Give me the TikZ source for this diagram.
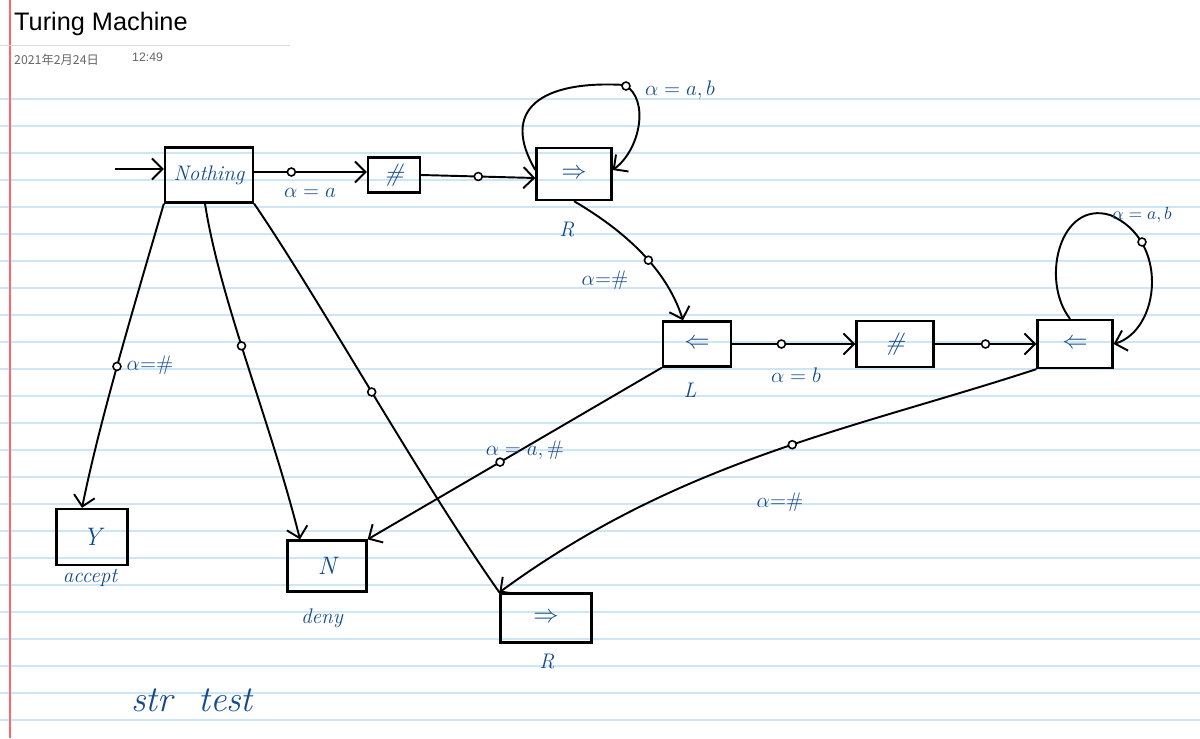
\documentclass[tikz,border=0pt]{standalone}
\usepackage{fontspec}
\setsansfont{Liberation Sans}
\newfontfamily\cjkf{Noto Sans CJK SC}
\usetikzlibrary{arrows.meta}
\definecolor{ink}{RGB}{20,75,140}
\definecolor{rule}{RGB}{205,230,245}
\tikzset{
 st/.style={draw,line width=1.3pt,inner sep=0pt,font=\Large\itshape,text=ink},
 ed/.style={line width=1.1pt,-{Straight Barb[length=6pt]}},
 lb/.style={text=ink,font=\large\itshape},
 dot/.style={circle,draw,line width=0.9pt,fill=white,inner sep=1.6pt},
}
\begin{document}
\begin{tikzpicture}[x=0.02cm,y=-0.02cm]
\useasboundingbox (0,0) rectangle (1200,738);
\fill[white] (0,0) rectangle (1200,738);
\foreach \y in {99,126,...,738} \draw[rule,line width=0.6pt] (0,\y) -- (1200,\y);
\draw[red!60,line width=0.8pt] (10,0) -- (10,738);
\draw[gray!30] (0,45) -- (290,45);
\node[anchor=west,font=\sffamily\Large] (title) at (8,24) {Turing Machine};
\node[anchor=west,font=\cjkf\scriptsize,text=gray!80!black] (date) at (8,60) {2021年2月24日};
\node[anchor=west,font=\sffamily\scriptsize,text=gray!80!black] (time) at (126,57) {12:49};
% states
\node[st,font=\large\itshape,minimum height=55*0.02cm,minimum width=88*0.02cm] (nothing) at (209,175) {Nothing};
\node[st,minimum width=52*0.02cm,minimum height=35*0.02cm] (h1) at (394,175) {\#};
\node[st,minimum width=75*0.02cm,minimum height=52*0.02cm] (r1) at (574,174) {$\Rightarrow$};
\node[st,minimum width=68*0.02cm,minimum height=45*0.02cm] (l1) at (697,344) {$\Leftarrow$};
\node[st,minimum width=77*0.02cm,minimum height=46*0.02cm] (h2) at (895,344) {\#};
\node[st,minimum width=75*0.02cm,minimum height=48*0.02cm] (l2) at (1075,344) {$\Leftarrow$};
\node[st,minimum width=71*0.02cm,minimum height=56*0.02cm] (y) at (92,537) {Y};
\node[st,minimum width=79*0.02cm,minimum height=51*0.02cm] (n) at (327,566) {N};
\node[st,minimum width=91*0.02cm,minimum height=49*0.02cm] (r2) at (546,618) {$\Rightarrow$};
\node[lb] (rl1) at (567,230) {R};
\node[lb] (ll1) at (690,390) {L};
\node[lb] (acc) at (90,578) {accept};
\node[lb] (den) at (322,618) {deny};
\node[lb] (rl2) at (547,662) {R};
\node[lb,font=\huge\itshape] (str) at (192,700) {str\ \ test};
% edges
\coordinate (s) at (115,169);
\draw[ed] (s) -- (nothing.west |- 0,169);
\draw[ed] (nothing.east |- 0,172) -- node[dot,pos=0.33]{} (h1.west |- 0,172);
\node[lb] at (310,193) {$\alpha = a$};
\draw[ed] (h1.east |- 0,175) -- node[dot,pos=0.5]{} (r1.west |- 0,178);
\draw[ed] (r1.west |- 0,170) .. controls (500,110) and (540,80) .. (625,85) .. controls (650,100) and (640,150) .. (r1.east |- 0,170);
\node[dot] at (626,86) {};
\node[lb] at (680,90) {$\alpha = a, b$};
\draw[ed] (r1.south) .. controls (640,240) and (670,280) .. node[dot,pos=0.5]{} (l1.north -| 683,0);
\node[lb] at (605,280) {$\alpha {=} \#$};
\draw[ed] (l1.east) -- node[dot,pos=0.4]{} (h2.west);
\node[lb] at (796,375) {$\alpha = b$};
\draw[ed] (h2.east) -- node[dot,pos=0.5]{} (l2.west);
\draw[ed] (l2.north -| 1070,0) .. controls (1040,280) and (1060,200) .. (1110,215) .. controls (1170,240) and (1160,330) .. (l2.east);
\node[dot] at (1142,242) {};
\node[lb,font=\itshape] at (1142,215) {$\alpha = a , b$};
\draw[ed] (l2.south west) .. controls (850,430) and (680,460) .. node[dot,pos=0.45]{} (r2.north west);
\node[lb] at (780,502) {$\alpha {=} \#$};
\draw[ed] (l1.south west) -- node[dot,pos=0.55]{} (n.north east);
\node[lb] at (525,450) {$\alpha = a, \#$};
\draw[ed] (nothing.south west) .. controls (130,320) and (100,420) .. node[dot,pos=0.5]{} (y.north -| 82,0);
\node[lb] at (150,365) {$\alpha {=} \#$};
\draw[ed] (nothing.south -| 205,0) .. controls (220,300) and (270,420) .. node[dot,pos=0.45]{} (n.north -| 300,0);
\draw[line width=1.1pt] (r2.north west) .. controls (420,480) and (320,300) .. node[dot,pos=0.5]{} (nothing.south east);
\end{tikzpicture}
\end{document}
